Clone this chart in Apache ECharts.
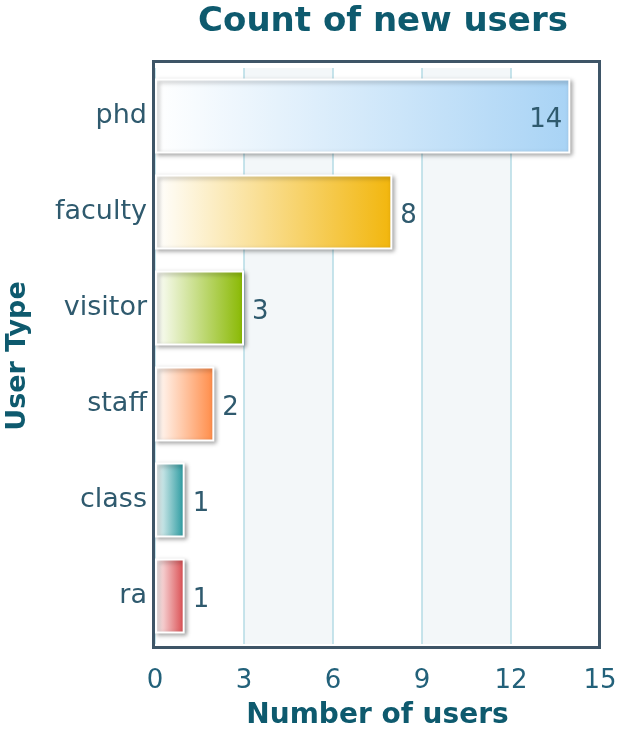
<!DOCTYPE html>
<html><head><meta charset="utf-8">
<script src="https://cdn.jsdelivr.net/npm/echarts@6/dist/echarts.min.js"></script>
<style>html,body{margin:0;padding:0;background:#fff}#c{width:617px;height:731px}</style>
</head><body><div id="c"></div>
<script>
const categories = ['phd', 'faculty', 'visitor', 'staff', 'class', 'ra'];
const values = [14, 8, 3, 2, 1, 1];
const xTicks = [0, 3, 6, 9, 12, 15];
const barColors = ['#a8d3f5', '#f2b60c', '#88b800', '#ff8a45', '#23979d', '#d9474b'];

const font = 'DejaVu Sans';
const chart = echarts.init(document.getElementById('c'));
chart.setOption({
  backgroundColor: '#fff',
  animation: false,
  title: {
    text: 'Count of new users', left: 378, top: 0, textAlign: 'center',
    textStyle: { fontFamily: font, fontSize: 34, fontWeight: 'bold', color: '#0e5a6e' }
  },
  grid: { left: 155, right: 17, top: 68, bottom: 87, show: false, outerBoundsMode: 'none', containLabel: false },
  graphic: [{
    type: 'rect', z: 100, silent: true,
    shape: { x: 153.5, y: 61.5, width: 446, height: 586 },
    style: { fill: 'none', stroke: '#3e5567', lineWidth: 3 }
  }],
  xAxis: {
    type: 'value', min: xTicks[0], max: xTicks[xTicks.length - 1], interval: 3,
    name: 'Number of users', nameLocation: 'middle', nameGap: 58,
    nameTextStyle: { fontFamily: font, fontSize: 28, fontWeight: 'bold', color: '#0e5a6e' },
    axisLine: { show: false }, axisTick: { show: false },
    axisLabel: { fontFamily: font, fontSize: 26, color: '#22617a', margin: 24 },
    splitLine: { show: true, lineStyle: { color: '#b4dbe4', width: 1.5 } },
    splitArea: { show: true, areaStyle: { color: ['#ffffff', '#f3f7f9'] } }
  },
  yAxis: {
    type: 'category', data: categories, inverse: true,
    name: 'User Type', nameLocation: 'middle', nameGap: 124, nameRotate: 90,
    nameTextStyle: { fontFamily: font, fontSize: 27, fontWeight: 'bold', color: '#0e5a6e' },
    axisLine: { show: false }, axisTick: { show: false },
    axisLabel: { fontFamily: font, fontSize: 27, color: '#2f5a6e', margin: 8 }
  },
  series: [{
    type: 'bar', barCategoryGap: '22%',
    data: values.map((v, i) => ({
      value: v,
      itemStyle: {
        color: new echarts.graphic.LinearGradient(0, 0, 1, 0, [
          { offset: 0, color: '#ffffff' }, { offset: 1, color: barColors[i] }
        ])
      },
      label: i === 0 ? { position: 'insideRight' } : { position: 'right' }
    })),
    itemStyle: {
      borderColor: '#ffffff', borderWidth: 2,
      shadowColor: 'rgba(0,0,0,0.35)', shadowBlur: 4, shadowOffsetX: 2, shadowOffsetY: 2
    },
    label: { show: true, fontFamily: font, fontSize: 26, color: '#2f5a6e', distance: 8, offset: [0, 4] }
  }]
});
</script></body></html>
